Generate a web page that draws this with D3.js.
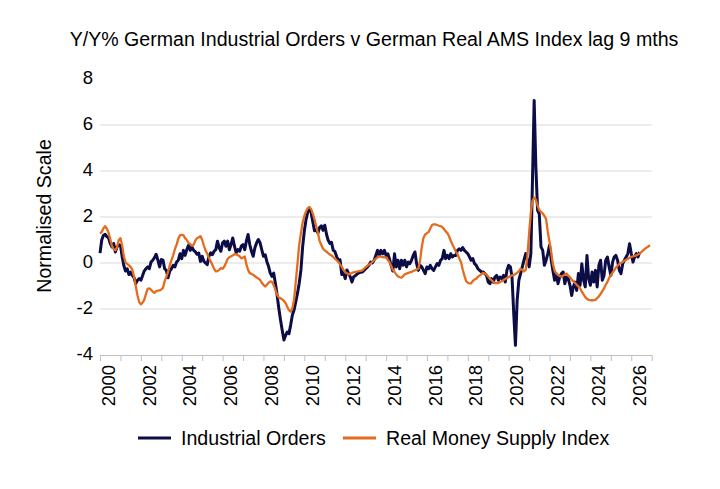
<!DOCTYPE html>
<html>
<head>
<meta charset="utf-8">
<script src="https://cdn.jsdelivr.net/npm/d3@7"></script>
<style>
  html, body { margin: 0; padding: 0; background: #fff; }
  svg { display: block; font-family: "Liberation Sans", Arial, sans-serif; }
</style>
</head>
<body>
<div id="chart"></div>
<script>
// monthly values from Jan 2000
const firstYear = 2000;
const lastYear = 2027;
const yTicks = [-4, -2, 0, 2, 4, 6, 8];
const gridValues = [-2, 0, 2, 4, 6];
const xLabelYears = d3.range(2000, 2027, 2);
const seriesNames = ["Industrial Orders", "Real Money Supply Index"];
const seriesColors = ["#0c0c47", "#e46c1e"];

const industrialOrders = [
  0.43, 1.0, 1.2, 1.25, 1.15, 1.1, 0.85, 0.7, 0.85, 0.48, 0.7, 0.8,
  0.77, 0.26, -0.1, -0.35, -0.25, -0.5, -0.4, -0.54, -0.64, -0.9, -0.75, -0.68,
  -0.75, -0.54, -0.35, -0.25, -0.17, -0.25, 0.04, 0.12, 0.23, 0.38, 0.12, -0.17,
  0.15, 0.12, -0.25, -0.32, -0.64, -0.35, -0.25, -0.1, -0.17, 0.04, 0.12, 0.4,
  0.19, 0.55, 0.33, 0.58, 0.77, 0.55, 0.7, 0.55, 0.48, 0.38, 0.43, 0.07,
  0.29, 0.07, 0, -0.07, 0.29, 0.44, 0.36, 0.51, 0.58, 0.95, 0.66, 0.51,
  0.88, 0.95, 0.73, 0.95, 0.58, 0.8, 1.09, 0.73, 0.44, 0.58, 0.51, 0.73,
  0.8, 0.58, 0.95, 1.24, 0.8, 0.51, 0.29, 0.66, 0.88, 1.02, 0.88, 0.58,
  0.29, 0.36, 0.07, -0.15, -0.44, -0.58, -0.44, -0.88, -1.39, -1.97, -2.48, -2.92,
  -3.35, -3.14, -3.0, -3.07, -2.7, -2.26, -2.04, -1.68, -1.31, -0.88, -0.3, 0.7,
  1.4, 1.9, 2.2, 2.4, 2.2, 1.8, 1.4, 1.45, 1.3, 1.55, 1.62, 1.42,
  1.64, 1.25, 1.0, 0.85, 0.9, 0.55, 0.5, 0.28, 0.12, 0.14, -0.5, -0.4,
  -0.68, -0.3, -0.45, -0.6, -0.83, -0.6, -0.55, -0.48, -0.43, -0.4, -0.39, -0.33,
  -0.25, -0.18, -0.1, 0.04, 0.0, 0.12, 0.33, 0.55, 0.33, 0.55, 0.4, 0.55,
  0.33, 0.4, 0.19, -0.1, -0.35, 0.4, -0.17, 0.12, -0.25, 0.12, -0.1, 0.12,
  -0.17, 0.04, -0.03, 0.12, 0.33, 0.48, -0.03, -0.32, -0.1, -0.17, -0.32, -0.46,
  -0.17, -0.25, -0.1, -0.25, -0.32, -0.17, -0.03, -0.1, 0.12, 0.19, 0.55, 0.19,
  0.33, 0.19, 0.4, 0.26, 0.33, 0.33, 0.55, 0.62, 0.55, 0.67, 0.55, 0.48,
  0.4, 0.26, 0.12, 0.19, -0.03, -0.1, -0.25, -0.32, -0.39, -0.39, -0.46, -0.54,
  -0.83, -0.9, -0.68, -0.83, -0.61, -0.54, -0.75, -0.61, -0.68, -0.54, -0.83, -0.32,
  -0.1, -0.17, -0.61, -2.2, -3.58, -1.62, -0.75, -0.46, -0.17, 0.12, 0.41, 0.12,
  -0.17, 0.41, 3.5, 7.07, 4.2, 2.29, 2.14, 0.7, 0.55, -0.1, 0.12, 0.41,
  0.77, 0.12, -0.32, -0.75, -0.46, -0.9, -0.61, -0.46, -0.39, -0.9, -0.61, -0.68,
  -0.97, -1.41, -1.04, -0.83, -1.19, -0.46, -0.97, -0.03, -0.75, -1.04, 0.33, -0.68,
  -0.97, -0.39, -0.83, -0.32, -1.04, -0.1, 0.12, -0.75, -0.54, 0.12, 0.26, -0.17,
  -0.54, 0.04, 0.26, 0.33, 0.12, -0.32, -0.46, -0.03, 0.12, 0.26, 0.41, 0.84,
  0.41, 0.04, 0.26, 0.41, 0.26, 0.48
];

const realMoneySupply = [
  1.28, 1.35, 1.5, 1.6, 1.5, 1.32, 1.05, 0.75, 0.6, 0.55, 0.68, 1.0,
  1.08, 0.75, 0.3, 0.04, -0.04, -0.1, -0.17, -0.3, -0.6, -1.0, -1.4, -1.7,
  -1.8, -1.72, -1.6, -1.35, -1.12, -1.1, -1.16, -1.25, -1.3, -1.22, -1.2, -1.19,
  -1.15, -1.07, -0.8, -0.6, -0.4, -0.1, 0.12, 0.33, 0.6, 0.8, 1.06, 1.2,
  1.23, 1.2, 1.08, 1.0, 0.87, 0.82, 0.75, 0.8, 0.98, 1.08, 1.12, 1.17,
  1.0, 0.75, 0.55, 0.4, 0.22, 0.08, -0.08, -0.25, -0.36, -0.35, -0.3, -0.22,
  -0.25, -0.15, 0.0, 0.18, 0.25, 0.29, 0.33, 0.38, 0.38, 0.34, 0.29, 0.2,
  0.24, 0.28, -0.05, -0.3, -0.44, -0.48, -0.51, -0.57, -0.63, -0.68, -0.73, -0.86,
  -0.95, -1.02, -0.95, -0.86, -0.8, -0.82, -0.95, -1.17, -1.38, -1.5, -1.53, -1.58,
  -1.65, -1.75, -1.9, -2.05, -2.12, -1.97, -1.6, -0.8, 0.0, 0.8, 1.3, 1.75,
  2.05, 2.25, 2.38, 2.43, 2.35, 2.15, 1.9, 1.6, 1.3, 0.95, 0.78, 0.62,
  0.55, 0.49, 0.43, 0.37, 0.33, 0.26, 0.19, 0.12, 0.04, -0.06, -0.17, -0.3,
  -0.4, -0.45, -0.49, -0.47, -0.43, -0.41, -0.39, -0.37, -0.35, -0.34, -0.32, -0.25,
  -0.18, -0.12, -0.07, -0.02, 0.04, 0.12, 0.19, 0.24, 0.29, 0.28, 0.26, 0.25,
  0.23, 0.14, 0.04, -0.12, -0.3, -0.38, -0.5, -0.58, -0.62, -0.64, -0.57, -0.49,
  -0.46, -0.43, -0.41, -0.39, -0.35, -0.32, -0.28, -0.25, 0.1, 0.7, 1.1, 1.24,
  1.3, 1.35, 1.5, 1.65, 1.68, 1.68, 1.65, 1.62, 1.6, 1.57, 1.48, 1.38,
  1.3, 1.15, 0.98, 0.8, 0.65, 0.5, 0.38, 0.2, 0.04, -0.28, -0.55, -0.78,
  -0.86, -0.89, -0.88, -0.78, -0.72, -0.68, -0.6, -0.55, -0.48, -0.43, -0.46, -0.5,
  -0.6, -0.68, -0.75, -0.82, -0.87, -0.87, -0.87, -0.83, -0.78, -0.74, -0.7, -0.65,
  -0.61, -0.57, -0.54, -0.52, -0.48, -0.42, -0.36, -0.25, -0.3, -0.37, -0.3, 0.3,
  1.3, 2.2, 2.7, 2.85, 2.75, 2.5, 2.3, 2.23, 2.15, 2.05, 1.9, 1.35,
  0.9, 0.45, -0.05, -0.33, -0.45, -0.52, -0.56, -0.6, -0.55, -0.5, -0.46, -0.55,
  -0.62, -0.72, -0.8, -0.86, -0.95, -1.02, -1.1, -1.25, -1.36, -1.48, -1.56, -1.6,
  -1.62, -1.62, -1.62, -1.6, -1.53, -1.45, -1.35, -1.22, -1.1, -0.95, -0.82, -0.65,
  -0.52, -0.42, -0.32, -0.2, -0.12, -0.04, 0.0, 0.04, 0.1, 0.14, 0.18, 0.23,
  0.26, 0.29, 0.31, 0.33, 0.37, 0.41, 0.48, 0.55, 0.61, 0.67, 0.72, 0.77
];

const width = 720;
const height = 489;
const plot = { left: 100, right: 651.7, top: 79, bottom: 355 };
const tickFont = 18.5;
const textFont = 19.6;
const textColor = "#000";

const svg = d3.select("#chart").append("svg")
  .attr("width", width)
  .attr("height", height)
  .attr("viewBox", `0 0 ${width} ${height}`);

const x = d3.scaleTime()
  .domain([new Date(firstYear, 0, 1), new Date(lastYear, 0, 1)])
  .range([plot.left, plot.right]);

const y = d3.scaleLinear()
  .domain([d3.min(yTicks), d3.max(yTicks)])
  .range([plot.bottom, plot.top]);

const monthDate = (i) => new Date(firstYear, i, 1);

// gridlines
svg.append("g")
  .selectAll("line")
  .data(gridValues)
  .join("line")
  .attr("x1", plot.left)
  .attr("x2", plot.right)
  .attr("y1", (d) => y(d))
  .attr("y2", (d) => y(d))
  .attr("stroke", "#d9d9d9")
  .attr("stroke-width", 1);

// x axis with yearly ticks
const xAxis = svg.append("g")
  .attr("transform", `translate(0,${y(-4)})`)
  .call(
    d3.axisBottom(x)
      .ticks(d3.timeYear.every(1))
      .tickSize(6)
      .tickSizeOuter(0)
      .tickFormat("")
  );
xAxis.select(".domain").attr("stroke", "#bfbfbf");
xAxis.selectAll(".tick line").attr("stroke", "#bfbfbf");

svg.append("g")
  .selectAll("text")
  .data(xLabelYears)
  .join("text")
  .attr("transform", (d) =>
    `translate(${x(new Date(d, 0, 1)) + 8 + 0.36 * tickFont},365) rotate(-90)`)
  .attr("text-anchor", "end")
  .attr("font-size", tickFont)
  .attr("fill", textColor)
  .text((d) => d);

// y labels
svg.append("g")
  .selectAll("text")
  .data(yTicks)
  .join("text")
  .attr("x", 93)
  .attr("y", (d) => y(d) + 4.5)
  .attr("text-anchor", "end")
  .attr("font-size", tickFont)
  .attr("fill", textColor)
  .text((d) => d);

// lines
const line = d3.line()
  .x((d, i) => x(monthDate(i)))
  .y((d) => y(d));

svg.append("path")
  .datum(industrialOrders)
  .attr("d", line)
  .attr("fill", "none")
  .attr("stroke", seriesColors[0])
  .attr("stroke-width", 3)
  .attr("stroke-linejoin", "round");

svg.append("path")
  .datum(realMoneySupply)
  .attr("d", line)
  .attr("fill", "none")
  .attr("stroke", seriesColors[1])
  .attr("stroke-width", 2.3)
  .attr("stroke-linejoin", "round");

// title
svg.append("text")
  .attr("x", 374)
  .attr("y", 46)
  .attr("text-anchor", "middle")
  .attr("font-size", textFont)
  .attr("fill", textColor)
  .text("Y/Y% German Industrial Orders v German Real AMS Index lag 9 mths");

svg.append("text")
  .attr("transform", "translate(51,216) rotate(-90)")
  .attr("text-anchor", "middle")
  .attr("font-size", textFont)
  .attr("fill", textColor)
  .text("Normalised Scale");

// legend
const legendItems = [
  { name: seriesNames[0], color: seriesColors[0], x: 138 },
  { name: seriesNames[1], color: seriesColors[1], x: 343 }
];
const legend = svg.append("g");
legendItems.forEach((item) => {
  legend.append("line")
    .attr("x1", item.x)
    .attr("x2", item.x + 33)
    .attr("y1", 438)
    .attr("y2", 438)
    .attr("stroke", item.color)
    .attr("stroke-width", 3);
  legend.append("text")
    .attr("x", item.x + 43)
    .attr("y", 445)
    .attr("font-size", textFont)
    .attr("fill", textColor)
    .text(item.name);
});
</script>
</body>
</html>
